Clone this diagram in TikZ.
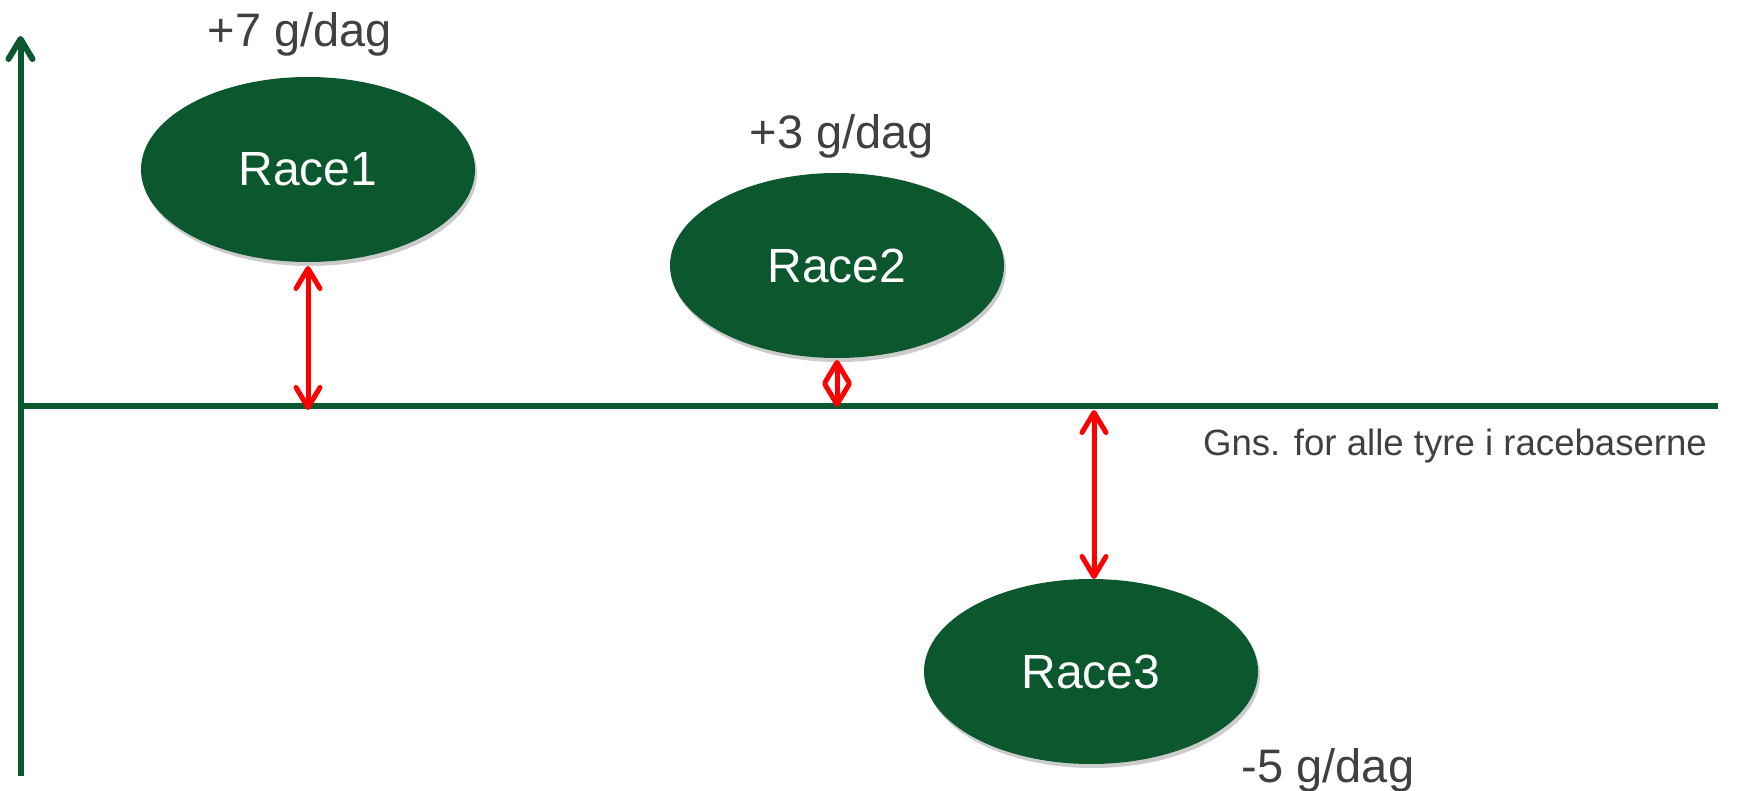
\documentclass[tikz,border=0pt]{standalone}
\usepackage{fontspec}
\setmainfont{Liberation Sans}
\usetikzlibrary{arrows.meta,shapes.geometric,shadows}
\definecolor{dgreen}{RGB}{11,87,46}
\definecolor{txtgray}{RGB}{64,64,64}
\definecolor{redc}{RGB}{255,0,0}
\tikzset{
  racebox/.style={ellipse, fill=dgreen, minimum width=167pt, minimum height=92.5pt, inner sep=0pt, outer sep=0pt,
    text=white, font=\fontsize{24}{28}\selectfont,
    drop shadow={shadow xshift=1pt, shadow yshift=-2pt, opacity=0.2, fill=black}},
  axisline/.style={draw=dgreen, line width=3pt},
  diffarrow/.style={draw=redc, line width=2.5pt, line cap=round,
    {Straight Barb[length=10pt,width=12pt,round]}-{Straight Barb[length=10pt,width=12pt,round]}},
  valuelabel/.style={text=txtgray, font=\fontsize{23.5}{28}\selectfont, anchor=base, inner sep=0pt},
  meanlabel/.style={text=txtgray, font=\fontsize{18.3}{22}\selectfont, anchor=base, inner sep=0pt}
}
\begin{document}
\begin{tikzpicture}[x=0.5pt,y=-0.5pt]
\useasboundingbox (0,0) rectangle (1744,791);
% axes
\coordinate (ybot) at (20.5,776);
\coordinate (ytop) at (20.5,36);
\coordinate (xl) at (20.5,406);
\coordinate (xr) at (1718,406);
\draw[axisline, -{Straight Barb[length=10pt,width=12pt,round]}] (ybot) -- (ytop);
\draw[axisline] (xl) -- (xr);
% ellipses
\node[racebox] (r1) at (308,169.5) {Race1};
\node[racebox] (r2) at (837,265.5) {Race2};
\node[racebox] (r3) at (1091,671.5) {Race3};
% baseline points
\coordinate (b1) at (308,406);
\coordinate (b2) at (837,406);
\coordinate (b3) at (1094,406);
\coordinate (t3) at (1094,579);
% difference arrows
\draw[diffarrow] ([yshift=-2pt]b1) -- ([yshift=-2pt]r1.south);
\draw[diffarrow] ([yshift=-0.5pt]b2) -- ([yshift=-1pt]r2.south);
\draw[diffarrow] ([yshift=-2pt]b3) -- (t3);
% labels
\node[valuelabel] (l1) at (300,47) {+7 g/dag};
\node[valuelabel] (l2) at (842,149) {+3 g/dag};
\node[valuelabel] (l3) at (1328,782) {-5 g/dag};
\node[meanlabel] (lm) at (1455,455) {Gns. for alle tyre i racebaserne};
\end{tikzpicture}
\end{document}
